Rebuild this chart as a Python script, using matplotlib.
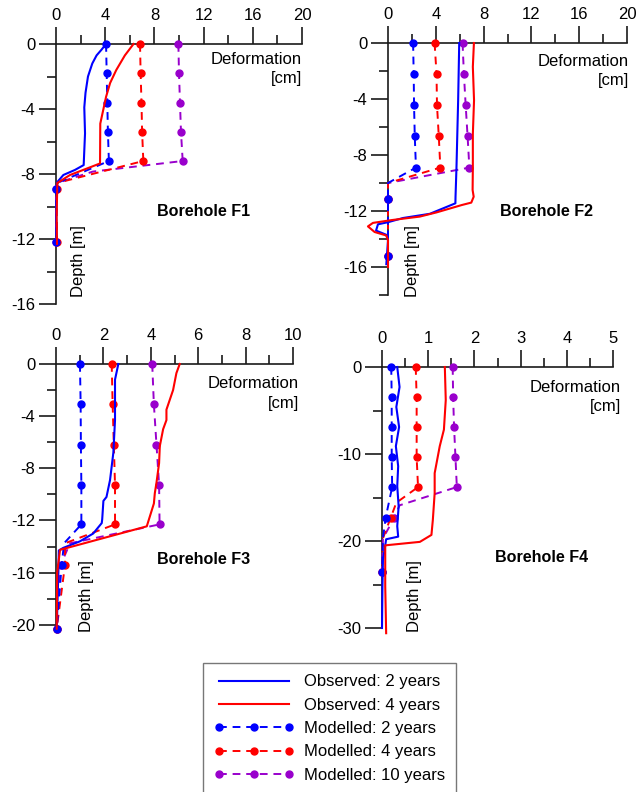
import matplotlib
matplotlib.use('Agg')
import matplotlib.pyplot as plt
from matplotlib.ticker import MultipleLocator, FuncFormatter
from matplotlib.lines import Line2D

plt.rcParams['font.family'] = ['Liberation Sans', 'DejaVu Sans']
plt.rcParams['axes.unicode_minus'] = False
plt.rcParams['font.size'] = 12

BLUE = '#0000FF'
RED = '#FF0000'
PURPLE = '#9900CC'

# ---------------- Borehole F1 ----------------
f1_obs2_depth = [0, -0.35, -0.7, -1.2, -2.0, -3.0, -3.9, -5.5, -7.45, -7.75, -8.06, -8.5, -10.5, -12.2]
f1_obs2_x = [4.07, 3.7, 3.3, 2.95, 2.6, 2.4, 2.3, 2.36, 2.25, 1.54, 0.6, 0.1, 0.02, 0.05]
f1_obs4_depth = [0, -0.7, -1.6, -2.4, -3.25, -4.9, -7.35, -7.55, -8.06, -8.55, -10.5, -12.3]
f1_obs4_x = [6.3, 5.6, 4.9, 4.4, 4.07, 3.6, 3.58, 2.9, 1.14, 0.11, 0.05, 0.08]
f1_mod2_depth = [0, -1.8, -3.6, -5.4, -7.2, -8.55, -8.9, -12.2]
f1_mod2_x = [4.07, 4.12, 4.17, 4.22, 4.3, 0.1, 0.0, 0.0]
f1_mod2_marks = [0, 1, 2, 3, 4, 6, 7]
f1_mod4_depth = [0, -1.8, -3.6, -5.4, -7.2, -8.55, -8.9, -12.2]
f1_mod4_x = [6.83, 6.88, 6.95, 7.0, 7.1, 0.1, 0.05, 0.08]
f1_mod4_marks = [0, 1, 2, 3, 4, 6, 7]
f1_mod10_depth = [0, -1.8, -3.6, -5.4, -7.2, -7.85, -8.55, -8.9, -12.2]
f1_mod10_x = [9.95, 10.0, 10.08, 10.16, 10.3, 3.0, 0.1, 0.0, 0.0]
f1_mod10_marks = [0, 1, 2, 3, 4, 7, 8]

# ---------------- Borehole F2 ----------------
f2_obs2_depth = [0, -4.1, -8.9, -11.0, -11.45, -12.2, -12.5, -12.8, -12.95, -13.4, -13.7, -14.1, -15.8]
f2_obs2_x = [5.96, 5.87, 5.73, 5.65, 5.64, 3.5, 1.26, 0.0, -0.84, -1.0, -0.14, 0.0, -0.14]
f2_obs4_depth = [0, -1.7, -4.1, -6.5, -8.9, -10.5, -10.98, -11.4, -11.57, -12.1, -12.4, -12.65,
                 -12.85, -13.1, -13.5, -13.75, -14.1, -16.0]
f2_obs4_x = [7.19, 7.1, 7.2, 7.1, 7.1, 7.08, 7.17, 6.97, 6.19, 4.06, 2.66, 0.3,
             -1.26, -1.68, -1.12, -0.14, 0.0, 0.0]
f2_mod_depth = [0, -2.2, -4.45, -6.67, -8.9, -10.0, -11.15, -15.2]
f2_mod_marks = [0, 1, 2, 3, 4, 6, 7]
f2_mod2_x = [2.1, 2.15, 2.18, 2.24, 2.34, 0.0, 0.0, 0.0]
f2_mod4_x = [3.9, 4.06, 4.1, 4.25, 4.38, 0.0, 0.0, 0.0]
f2_mod10_x = [6.24, 6.35, 6.5, 6.66, 6.81, 0.0, 0.0, 0.0]

# ---------------- Borehole F3 ----------------
f3_obs2_depth = [0, -1.2, -4.3, -6.8, -8.9, -10.2, -10.5, -11.9, -12.2, -13.0, -13.6, -14.1, -14.3, -16.0, -20.3]
f3_obs2_x = [2.63, 2.49, 2.49, 2.42, 2.28, 2.13, 2.0, 1.95, 1.93, 1.57, 1.01, 0.31, 0.12, 0.1, 0.03]
f3_obs4_depth = [0, -0.7, -2.0, -3.5, -4.3, -5.0, -6.3, -7.6, -9.1, -9.9, -10.7, -12.45, -14.25, -16.0, -20.3]
f3_obs4_x = [5.22, 5.08, 4.94, 4.66, 4.66, 4.52, 4.38, 4.35, 4.24, 4.17, 4.13, 3.83, 0.17, 0.05, 0.03]
f3_mod_depth = [0, -3.1, -6.2, -9.26, -12.3, -13.75, -15.4, -20.3]
f3_mod_marks = [0, 1, 2, 3, 4, 6, 7]
f3_mod2_x = [1.01, 1.04, 1.05, 1.07, 1.07, 0.34, 0.24, 0.03]
f3_mod4_x = [2.35, 2.39, 2.44, 2.49, 2.49, 0.38, 0.38, 0.03]
f3_mod10_x = [4.06, 4.13, 4.24, 4.35, 4.37, 0.59, 0.2, 0.03]

# ---------------- Borehole F4 ----------------
f4_obs2_depth = [0, -2.3, -4.6, -6.9, -9.1, -11.4, -13.7, -16.0, -18.3, -19.5, -19.8, -22.2, -25.2, -30.0]
f4_obs2_x = [0.33, 0.38, 0.31, 0.37, 0.30, 0.35, 0.33, 0.36, 0.33, 0.35, 0.09, 0.02, 0.01, 0.0]
f4_obs4_depth = [0, -3.8, -7.2, -9.1, -12.2, -14.5, -17.6, -19.3, -20.1, -20.5, -25.2, -30.6]
f4_obs4_x = [1.36, 1.38, 1.34, 1.25, 1.14, 1.14, 1.1, 1.07, 0.82, 0.07, 0.07, 0.09]
f4_mod2_depth = [0, -3.5, -6.9, -10.4, -13.8, -17.3, -19.7, -23.6]
f4_mod2_x = [0.2, 0.21, 0.21, 0.21, 0.22, 0.08, 0.02, 0.0]
f4_mod2_marks = [0, 1, 2, 3, 4, 5, 7]
f4_mod4_depth = [0, -3.5, -6.9, -10.4, -13.8, -15.6, -17.3, -19.7, -23.6]
f4_mod4_x = [0.73, 0.75, 0.75, 0.75, 0.78, 0.31, 0.19, 0.02, 0.0]
f4_mod4_marks = [0, 1, 2, 3, 4, 6, 8]
f4_mod10_depth = [0, -3.5, -6.9, -10.4, -13.8, -15.9, -17.3, -19.7, -23.6]
f4_mod10_x = [1.53, 1.54, 1.56, 1.59, 1.62, 0.38, 0.27, 0.02, 0.0]
f4_mod10_marks = [0, 1, 2, 3, 4, 6, 8]

panel_titles = ['Borehole F1', 'Borehole F2', 'Borehole F3', 'Borehole F4']
legend_labels = ['Observed: 2 years', 'Observed: 4 years', 'Modelled: 2 years',
                 'Modelled: 4 years', 'Modelled: 10 years']

panels = [
    dict(obs=[(f1_obs2_x, f1_obs2_depth), (f1_obs4_x, f1_obs4_depth)],
         mod=[(f1_mod2_x, f1_mod2_depth, f1_mod2_marks), (f1_mod4_x, f1_mod4_depth, f1_mod4_marks),
              (f1_mod10_x, f1_mod10_depth, f1_mod10_marks)],
         rect=(56, 44, 302, 304), xlim=(0, 20), ylim=(-16, 0), xmaj=4, xmin=2, ymaj=4, ymin=2,
         defo_r=302, defo_y=59, title_xy=(157, 211), depth_xy=(79, 297)),
    dict(obs=[(f2_obs2_x, f2_obs2_depth), (f2_obs4_x, f2_obs4_depth)],
         mod=[(f2_mod2_x, f2_mod_depth, f2_mod_marks), (f2_mod4_x, f2_mod_depth, f2_mod_marks),
              (f2_mod10_x, f2_mod_depth, f2_mod_marks)],
         rect=(388, 43, 627, 295), xlim=(0, 20), ylim=(-18, 0), xmaj=4, xmin=2, ymaj=4, ymin=2,
         defo_r=629, defo_y=61, title_xy=(500, 211), depth_xy=(412, 297)),
    dict(obs=[(f3_obs2_x, f3_obs2_depth), (f3_obs4_x, f3_obs4_depth)],
         mod=[(f3_mod2_x, f3_mod_depth, f3_mod_marks), (f3_mod4_x, f3_mod_depth, f3_mod_marks),
              (f3_mod10_x, f3_mod_depth, f3_mod_marks)],
         rect=(56, 364, 293, 630), xlim=(0, 10), ylim=(-20.4, 0), xmaj=2, xmin=1, ymaj=4, ymin=2,
         defo_r=299, defo_y=384, title_xy=(157, 559), depth_xy=(87, 632)),
    dict(obs=[(f4_obs2_x, f4_obs2_depth), (f4_obs4_x, f4_obs4_depth)],
         mod=[(f4_mod2_x, f4_mod2_depth, f4_mod2_marks), (f4_mod4_x, f4_mod4_depth, f4_mod4_marks),
              (f4_mod10_x, f4_mod10_depth, f4_mod10_marks)],
         rect=(382, 367, 613, 628), xlim=(0, 5), ylim=(-30, 0), xmaj=1, xmin=0.5, ymaj=10, ymin=5,
         defo_r=621, defo_y=387, title_xy=(495, 557), depth_xy=(415, 632)),
]

W, H = 638, 792
fig = plt.figure(figsize=(W / 100, H / 100), dpi=100)

def fx(x):
    return x / W

def fy(y):
    return 1 - y / H

AXC = '#1a1a1a'
obs_colors = [BLUE, RED]
mod_colors = [BLUE, RED, PURPLE]

for i, p in enumerate(panels):
    l, t, r, b = p['rect']
    ax = fig.add_axes([fx(l), fy(b), (r - l) / W, (b - t) / H])
    ax.set_xlim(*p['xlim'])
    ax.set_ylim(*p['ylim'])
    ax.patch.set_alpha(0)
    for s in ['right', 'bottom']:
        ax.spines[s].set_visible(False)
    for s in ['top', 'left']:
        ax.spines[s].set_linewidth(1.2)
        ax.spines[s].set_color(AXC)
    ax.xaxis.tick_top()
    ax.xaxis.set_major_locator(MultipleLocator(p['xmaj']))
    ax.xaxis.set_minor_locator(MultipleLocator(p['xmin']))
    ax.yaxis.set_major_locator(MultipleLocator(p['ymaj']))
    ax.yaxis.set_minor_locator(MultipleLocator(p['ymin']))
    fmt = FuncFormatter(lambda v, pos: ('%g' % v).replace('\u2212', '-'))
    ax.xaxis.set_major_formatter(fmt)
    ax.yaxis.set_major_formatter(fmt)
    ax.tick_params(which='major', direction='out', length=12.5, width=1.2, color=AXC,
                   labelsize=12, pad=2.5)
    ax.tick_params(which='minor', direction='out', length=6.5, width=1.2, color=AXC)

    # modelled (purple first so blue sits on top)
    for j in [2, 1, 0]:
        xs, ds, mk = p['mod'][j]
        ax.plot(xs, ds, color=mod_colors[j], lw=1.4, dashes=(4, 3), marker='o', ms=5,
                markevery=mk, clip_on=False, zorder=3 + (2 - j) * 0.1)
    for j in [0, 1]:
        xs, ds = p['obs'][j]
        ax.plot(xs, ds, color=obs_colors[j], lw=1.5, clip_on=False, zorder=4 + j * 0.1)

    fig.text(fx(p['defo_r']), fy(p['defo_y']), 'Deformation', ha='right', va='center', fontsize=12)
    fig.text(fx(p['defo_r']), fy(p['defo_y'] + 20), '[cm]', ha='right', va='center', fontsize=12)
    fig.text(fx(p['title_xy'][0]), fy(p['title_xy'][1]), panel_titles[i], ha='left', va='center',
             fontsize=11.6, fontweight='bold')
    fig.text(fx(p['depth_xy'][0]), fy(p['depth_xy'][1]), 'Depth [m]', rotation=90,
             ha='center', va='bottom', fontsize=12)

handles = [
    Line2D([], [], color=BLUE, lw=1.5),
    Line2D([], [], color=RED, lw=1.5),
    Line2D([], [], color=BLUE, lw=1.4, dashes=(4, 3), marker='o', ms=5),
    Line2D([], [], color=RED, lw=1.4, dashes=(4, 3), marker='o', ms=5),
    Line2D([], [], color=PURPLE, lw=1.4, dashes=(4, 3), marker='o', ms=5),
]
leg = fig.legend(handles, legend_labels, loc='upper left', bbox_to_anchor=(fx(203), fy(663)),
                 frameon=True, fancybox=False, borderaxespad=0, handlelength=4.8,
                 handletextpad=0.55, numpoints=3, labelspacing=0.5,
                 borderpad=0.68, fontsize=12)
leg.get_frame().set_edgecolor('#555555')
leg.get_frame().set_linewidth(1.0)

fig.savefig('out.png', dpi=100)
